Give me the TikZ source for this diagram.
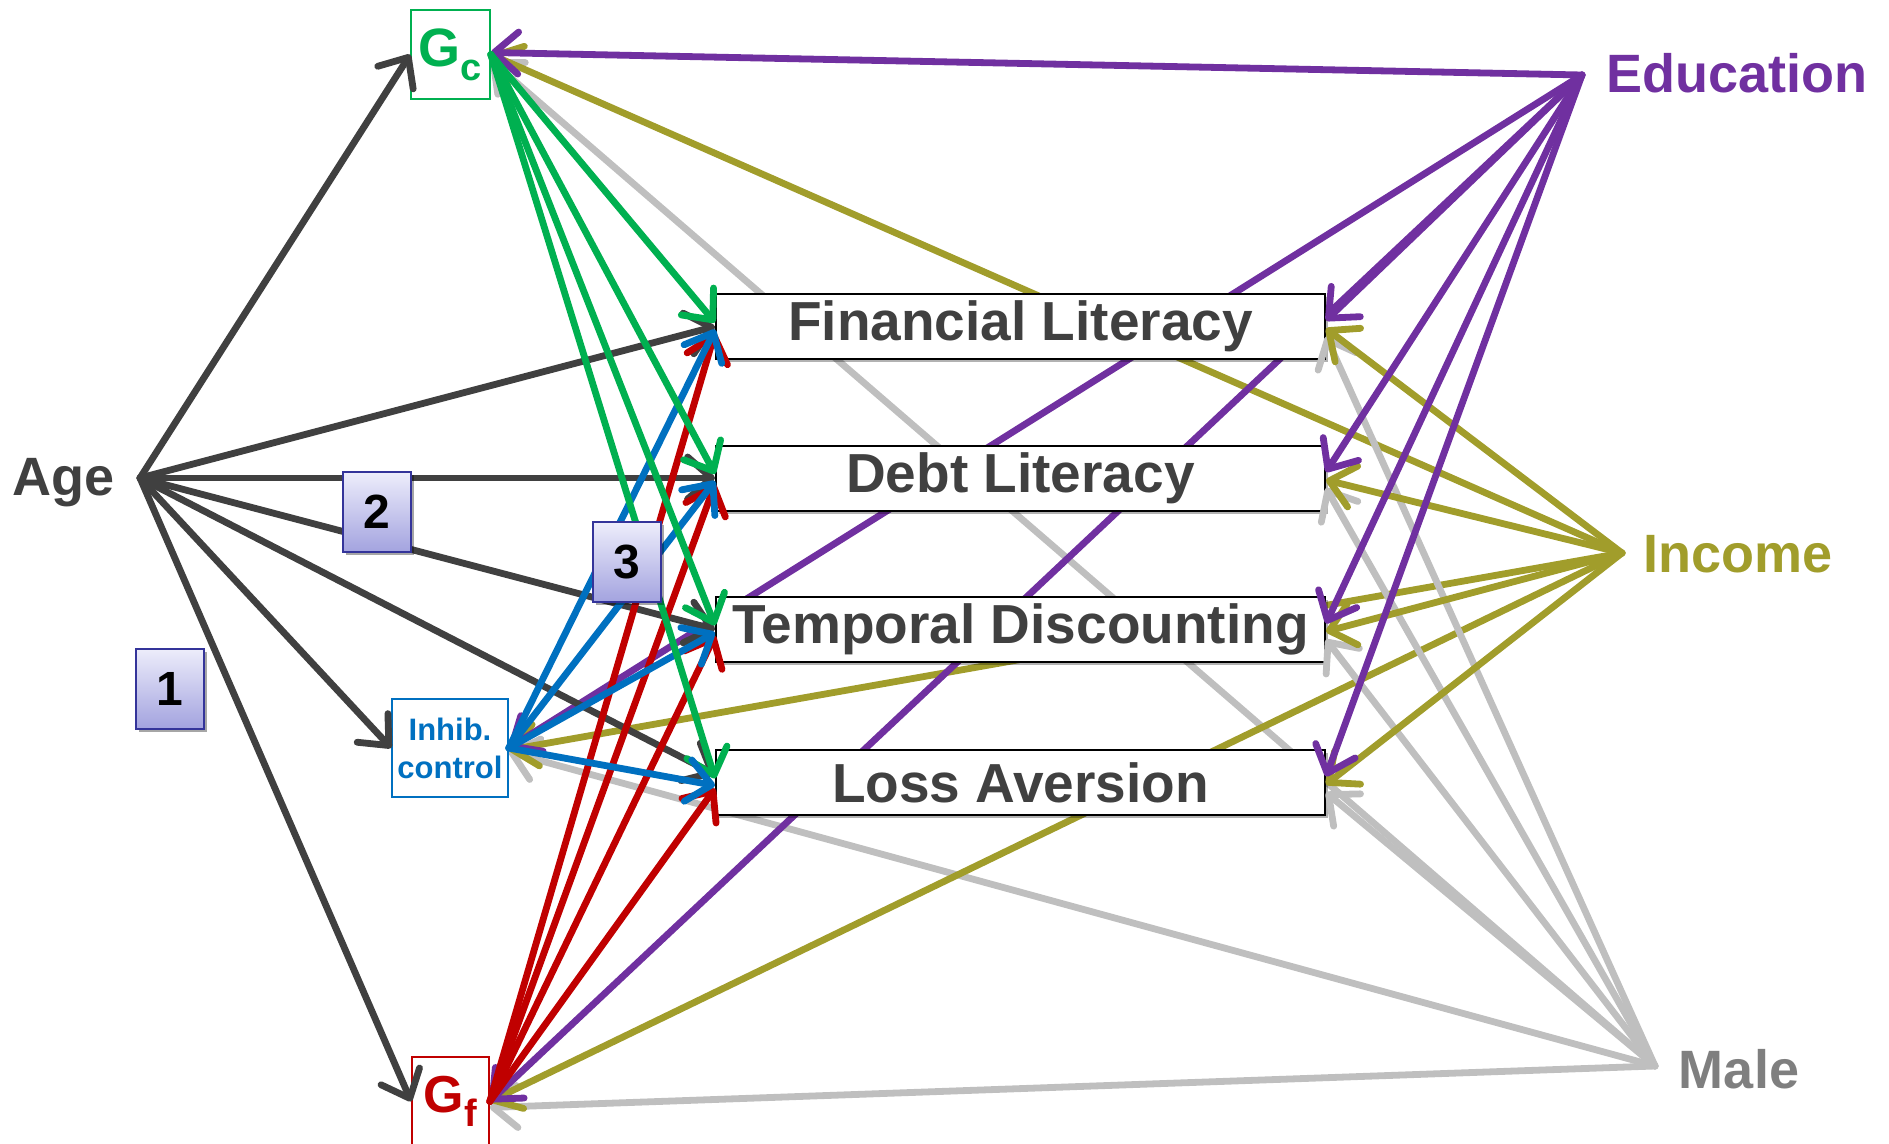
\documentclass[tikz,border=0pt]{standalone}
\usepackage{fontspec}
\setmainfont{Liberation Sans}
\usetikzlibrary{arrows.meta,shadows,calc}
\pgfdeclarelayer{edges}
\pgfdeclarelayer{front}
\pgfsetlayers{edges,main,front}

\definecolor{agegray}{HTML}{404040}
\definecolor{gcgreen}{HTML}{00B050}
\definecolor{gfred}{HTML}{C00000}
\definecolor{icblue}{HTML}{0070C0}
\definecolor{edupurple}{HTML}{7030A0}
\definecolor{incolive}{HTML}{A19D2B}
\definecolor{malegray}{HTML}{7F7F7F}
\definecolor{linegray}{HTML}{BFBFBF}
\definecolor{badgetop}{HTML}{EDEDFB}
\definecolor{badgebot}{HTML}{A3A3DF}
\definecolor{badgeedge}{HTML}{34349A}

\tikzset{
  link/.style={line width=3.4pt, line cap=round,
    -{Straight Barb[length=12pt,width=21pt,line cap=round,line join=round]}},
  outcome/.style={draw=black, line width=1pt, fill=white, inner sep=0pt,
    minimum width=304.5pt, minimum height=32.5pt, text=agegray,
    font=\fontsize{27.5}{30}\selectfont\bfseries,
    drop shadow={shadow xshift=1.5pt, shadow yshift=-1.5pt, opacity=0.3, fill=black}},
  factorbox/.style={draw=#1, line width=0.8pt, fill=white, inner sep=0pt, text=#1},
  hublabel/.style={anchor=base, font=\fontsize{27}{30}\selectfont\bfseries},
  badge/.style={draw=badgeedge, line width=1pt, top color=badgetop, bottom color=badgebot,
    minimum width=34pt, minimum height=40pt, inner sep=0pt,
    font=\fontsize{24}{24}\selectfont\bfseries, text=black,
    drop shadow={shadow xshift=1.5pt, shadow yshift=-1.5pt, opacity=0.35, fill=black}}
}

\begin{document}
\begin{tikzpicture}[x=0.5pt,y=-0.5pt]
\useasboundingbox (0,0) rectangle (1889,1144);

% outcome boxes
\node[outcome] (fl) at (1020.5,326.5) {Financial Literacy};
\node[outcome] (dl) at (1020.5,478) {Debt Literacy};
\node[outcome] (td) at (1020.5,629.5) {Temporal Discounting};
\node[outcome] (la) at (1020.5,782.5) {Loss Aversion};

% cognitive factors
\node[factorbox=gcgreen, minimum width=39.5pt, minimum height=44.5pt] (gc) at (450.5,54.5)
  {\fontsize{27}{27}\selectfont\bfseries G\raisebox{-7pt}{\fontsize{19}{19}\selectfont c}};
\node[factorbox=gfred, minimum width=38.5pt, minimum height=44.5pt] (gf) at (450.5,1101.5)
  {\fontsize{26}{26}\selectfont\bfseries G\raisebox{-7pt}{\fontsize{19}{19}\selectfont f}};
\node[factorbox=icblue, minimum width=58pt, minimum height=49pt, align=center,
  font=\fontsize{15.5}{19}\selectfont\bfseries] (ic) at (450,748) {Inhib.\\control};

% demographic labels and their hubs
\node[hublabel, text=agegray] (age) at (64,495) {Age};
\node[hublabel, text=edupurple] (edu) at (1736.5,93) {Education};
\node[hublabel, text=incolive] (inc) at (1738,572) {Income};
\node[hublabel, text=malegray] (male) at (1739,1088) {Male};
\coordinate (agehub) at (140,478);
\coordinate (eduhub) at (1582,75);
\coordinate (inchub) at (1622,553);
\coordinate (malehub) at (1655,1066);

% long links to the cognitive factors run behind the outcome boxes
\begin{pgfonlayer}{edges}
  \draw[link, linegray] (malehub) -- ([yshift=-3pt]gc.east);
  \draw[link, linegray] (malehub) -- ([yshift=-2pt]ic.east);
  \draw[link, linegray] (malehub) -- ([yshift=-3pt]gf.east);
  \draw[link, incolive] (inchub) -- (gc.east);
  \draw[link, incolive] (inchub) -- ([yshift=-1pt]ic.east);
  \draw[link, incolive] (inchub) -- (gf.east);
  \draw[link, edupurple] (eduhub) -- ([yshift=1pt]gc.east);
  \draw[link, edupurple] (eduhub) -- (ic.east);
  \draw[link, edupurple] (eduhub) -- (gf.east);
\end{pgfonlayer}

\begin{pgfonlayer}{front}
  % demographics to outcomes
  \foreach \t in {fl,dl,td,la}
    \draw[link, linegray] (malehub) -- ([yshift=-5pt]\t.east);
  \foreach \t in {fl,dl,td,la}
    \draw[link, incolive] (inchub) -- ([yshift=-1pt]\t.east);
  \foreach \t in {fl,dl,td,la}
    \draw[link, edupurple] (eduhub) -- ([yshift=3pt]\t.east);
  % age
  \draw[link, agegray] (agehub) -- (gc.west);
  \draw[link, agegray] (agehub) -- (ic.west);
  \draw[link, agegray] (agehub) -- (gf.west);
  \draw[link, agegray] (agehub) -- (fl.west);
  \draw[link, agegray] (agehub) -- (dl.west);
  \draw[link, agegray] (agehub) -- (td.west);
  \draw[link, agegray] (agehub) -- ([yshift=4pt]la.west);
  % crystallized and fluid intelligence, inhibitory control
  \foreach \t in {fl,dl,td,la}{
    \draw[link, gfred] (gf.east) -- ([yshift=-3pt]\t.west);
    \draw[link, gcgreen] (gc.east) -- ([yshift=2pt]\t.west);
    \draw[link, icblue] (ic.east) -- ([yshift=-1.5pt]\t.west);
  }
  % numbered markers
  \node[badge] (b1) at (169.5,688.5) {1};
  \node[badge] (b2) at (377,512) {2};
  \node[badge] (b3) at (626.5,562) {3};
\end{pgfonlayer}
\end{tikzpicture}
\end{document}
